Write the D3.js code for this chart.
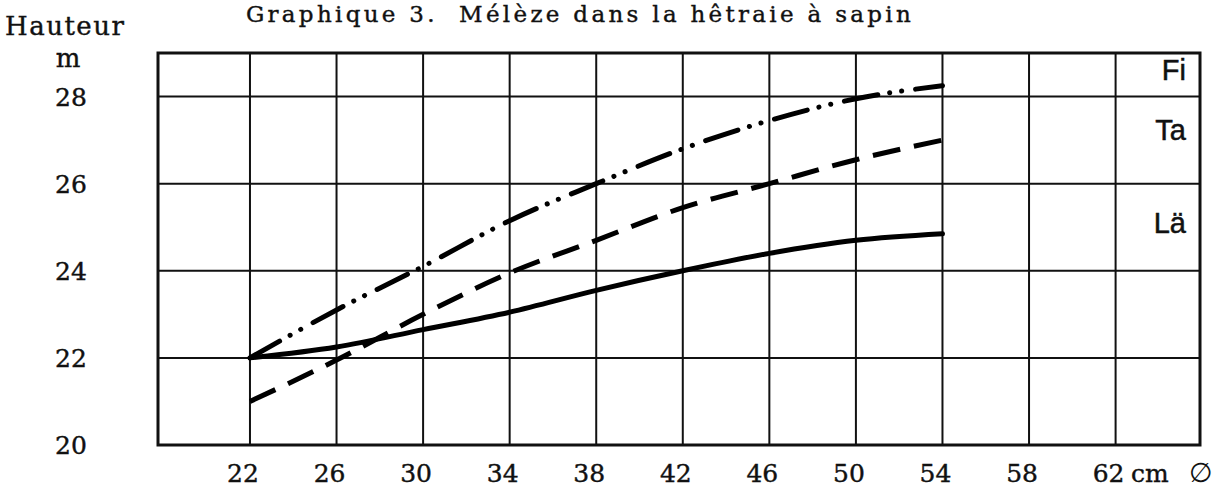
<!DOCTYPE html>
<html>
<head>
<meta charset="utf-8">
<script src="https://cdn.jsdelivr.net/npm/d3@7"></script>
<style>
  html, body { margin: 0; padding: 0; background: #fff; }
  svg { display: block; }
</style>
</head>
<body>
<svg id="chart" width="1218" height="490"></svg>
<script>
// ---- data ----
const diameters = [22, 26, 30, 34, 38, 42, 46, 50, 54];
const fiHeights = [22.0, 23.1, 24.1, 25.15, 26.0, 26.8, 27.45, 27.95, 28.25]; // dash-dot-dot
const taHeights = [21.0, 21.95, 23.0, 23.95, 24.7, 25.45, 26.0, 26.55, 27.0];  // dashed
const laHeights = [22.0, 22.25, 22.65, 23.05, 23.55, 24.0, 24.4, 24.7, 24.85]; // solid
const xTicks = [22, 26, 30, 34, 38, 42, 46, 50, 54, 58, 62];
const yTicks = [20, 22, 24, 26, 28];
const yGrid = [22, 24, 26, 28];
const seriesLabels = ["Fi", "Ta", "Lä"];
const titleText = "Graphique 3.  Mélèze dans la hêtraie à sapin";

// ---- layout ----
const svg = d3.select("#chart");
const x = d3.scaleLinear().domain([17.75, 65.9]).range([158, 1200]);
const y = d3.scaleLinear().domain([20, 29]).range([445, 53]);
const serif = "'DejaVu Serif', 'Liberation Serif', serif";
const sans = "'Liberation Sans', Arial, sans-serif";

// grid
const g = svg.append("g").attr("stroke", "#111").attr("fill", "none");
g.selectAll("line.v").data(xTicks).enter().append("line")
  .attr("x1", d => x(d)).attr("x2", d => x(d))
  .attr("y1", y(29)).attr("y2", y(20))
  .attr("stroke-width", 2);
g.selectAll("line.h").data(yGrid).enter().append("line")
  .attr("x1", x(17.75)).attr("x2", x(65.9))
  .attr("y1", d => y(d)).attr("y2", d => y(d))
  .attr("stroke-width", 2);
g.append("rect")
  .attr("x", x(17.75)).attr("y", y(29))
  .attr("width", x(65.9) - x(17.75)).attr("height", y(20) - y(29))
  .attr("stroke-width", 3);

// curves
const line = d3.line().x(d => x(d[0])).y(d => y(d[1])).curve(d3.curveMonotoneX);
const mk = arr => diameters.map((d, i) => [d, arr[i]]);
svg.append("path").attr("d", line(mk(laHeights)))
  .attr("fill", "none").attr("stroke", "#000").attr("stroke-width", 5)
  .attr("stroke-linecap", "round");
svg.append("path").attr("d", line(mk(taHeights)))
  .attr("fill", "none").attr("stroke", "#000").attr("stroke-width", 5)
  .attr("stroke-dasharray", "28 14");
svg.append("path").attr("d", line(mk(fiHeights)))
  .attr("fill", "none").attr("stroke", "#000").attr("stroke-width", 5)
  .attr("stroke-linecap", "round")
  .attr("stroke-dasharray", "34 12 0.1 12 0.1 14");

const textStyle = sel => sel.attr("fill", "#111").attr("stroke", "#111").attr("stroke-width", 0.4);

// y tick labels
svg.selectAll("text.yt").data(yTicks).enter().append("text")
  .attr("x", 71).attr("y", d => y(d)).attr("dy", "0.36em")
  .attr("text-anchor", "middle")
  .attr("font-family", serif).attr("font-size", 25)
  .call(textStyle)
  .text(d => d);
svg.append("text").attr("x", 68).attr("y", 67).attr("text-anchor", "middle")
  .attr("font-family", serif).attr("font-size", 26).call(textStyle).text("m");
svg.append("text").attr("x", 5).attr("y", 35)
  .attr("font-family", serif).attr("font-size", 26).attr("letter-spacing", 1.5)
  .call(textStyle).text("Hauteur");

// x tick labels
svg.selectAll("text.xt").data(xTicks).enter().append("text")
  .attr("x", d => x(d) - 7).attr("y", 482)
  .attr("text-anchor", "middle")
  .attr("font-family", serif).attr("font-size", 25)
  .call(textStyle)
  .text(d => d);
svg.append("text").attr("x", 1131).attr("y", 482)
  .attr("font-family", serif).attr("font-size", 25).call(textStyle).text("cm");
svg.append("text").attr("x", 1189).attr("y", 482)
  .attr("font-family", "'DejaVu Sans', sans-serif").attr("font-size", 27)
  .attr("fill", "#111").text("∅");

// title
svg.append("text").attr("x", 580).attr("y", 22).attr("text-anchor", "middle")
  .attr("font-family", serif).attr("font-size", 23).attr("letter-spacing", 3.3)
  .style("white-space", "pre")
  .call(textStyle).text(titleText);

// series labels
const labY = [80, 140, 233];
svg.selectAll("text.sl").data(seriesLabels).enter().append("text")
  .attr("x", 1186).attr("y", (d, i) => labY[i]).attr("text-anchor", "end")
  .attr("font-family", sans).attr("font-size", 29)
  .attr("fill", "#111").attr("stroke", "#111").attr("stroke-width", 0.5)
  .text(d => d);
</script>
</body>
</html>
